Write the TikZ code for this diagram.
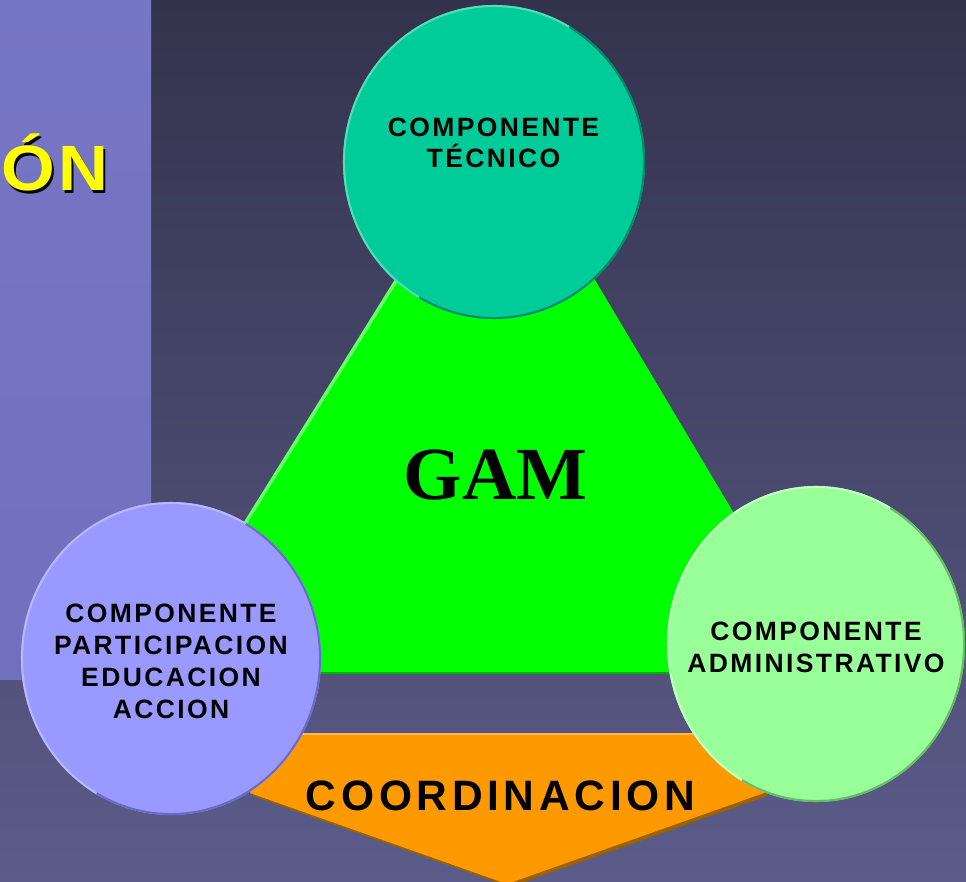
\documentclass[tikz,border=0pt]{standalone}
\usepackage{fontspec}
\setmainfont{Liberation Sans}
\newfontfamily\lblfont[LetterSpace=9]{Liberation Sans}
\newfontfamily\coordfont[LetterSpace=11]{Liberation Sans}
\newfontfamily\titlefont[FakeStretch=1.08,LetterSpace=5]{Liberation Sans}
\newfontfamily\gamfont{Liberation Serif}
\usetikzlibrary{shapes.geometric}
\definecolor{bgtop}{HTML}{33334D}
\definecolor{bgbot}{HTML}{5C5C8A}
\definecolor{paneltop}{HTML}{7676C6}
\definecolor{panelbot}{HTML}{7070BC}
\definecolor{tcfill}{HTML}{00CC99}
\definecolor{tclight}{HTML}{55DDBB}
\definecolor{tcdark}{HTML}{00886A}
\definecolor{lcfill}{HTML}{9999FF}
\definecolor{lclight}{HTML}{B8B8FF}
\definecolor{lcdark}{HTML}{6A6ACC}
\definecolor{rcfill}{HTML}{99FF99}
\definecolor{rclight}{HTML}{C2FFC2}
\definecolor{rcdark}{HTML}{66BB66}
\definecolor{trifill}{HTML}{00FF00}
\definecolor{trilight}{HTML}{66FF66}
\definecolor{tridark}{HTML}{00B000}
\definecolor{orfill}{HTML}{FF9900}
\definecolor{orshadow}{HTML}{9C6200}
\definecolor{orlight}{HTML}{FFB84D}
\definecolor{titleyellow}{HTML}{FFFF00}
\begin{document}
\begin{tikzpicture}[x=1pt,y=-1pt,
  bubble/.style={ellipse, inner sep=0pt},
  lbl/.style={font=\lblfont\bfseries\fontsize{26.5}{32}\selectfont, align=center, inner sep=0pt, text=black},
  rim/.style={line width=2pt},
  titletext/.style={anchor=base west, inner sep=0pt, font=\titlefont\bfseries\fontsize{64}{64}\selectfont}
]
\useasboundingbox (0,0) rectangle (966,882);
% background
\shade[top color=bgtop, bottom color=bgbot] (0,0) rectangle (966,882);
\shade[top color=paneltop, bottom color=panelbot] (0,0) rectangle (151,679);
% title fragment
\node[titletext, text=black] (onshadow) at (3,193.5) {ÓN};
\node[titletext, text=titleyellow] (on) at (1,191) {ÓN};
% orange pentagon
\coordinate (otl) at (250,734);
\coordinate (otr) at (764,734);
\coordinate (omr) at (764,793);
\coordinate (oap) at (507,884);
\coordinate (oml) at (250,793);
\fill[orshadow] ([shift={(3,3)}]otl) -- ([shift={(3,3)}]otr) -- ([shift={(3,3)}]omr) -- ([shift={(3,3)}]oap) -- ([shift={(3,3)}]oml) -- cycle;
\fill[orfill] (otl) -- (otr) -- (omr) -- (oap) -- (oml) -- cycle;
\draw[orlight, line width=1.5pt] (otl) -- (otr);
% green triangle
\coordinate (tap) at (498,117);
\coordinate (tbl) at (152,673);
\coordinate (tbr) at (829,673);
\fill[trifill] (tap) -- (tbr) -- (tbl) -- cycle;
\draw[tridark, line width=2pt] (tbl) -- (tbr);
\draw[trilight, line width=3.5pt] (tbl) -- (tap);
\node[inner sep=0pt, anchor=base, font=\gamfont\bfseries\fontsize{75}{75}\selectfont] (gam) at (495.5,499) {GAM};
% top circle
\node[bubble, fill=tcfill, minimum width=302pt, minimum height=314pt] (tc) at (494,162) {};
\draw[tcdark, rim] (tc.center) ++(-60:150 and 156) arc[start angle=-60, end angle=120, x radius=150, y radius=156];
\draw[tclight, rim] (tc.center) ++(120:150 and 156) arc[start angle=120, end angle=300, x radius=150, y radius=156];
\node[lbl, font=\lblfont\bfseries\fontsize{26.5}{31}\selectfont] (tctext) at (493.5,143) {COMPONENTE\\TÉCNICO};
% left circle
\node[bubble, fill=lcfill, minimum width=300pt, minimum height=313pt] (lc) at (171,658.5) {};
\draw[lcdark, rim] (lc.center) ++(-60:149 and 155.5) arc[start angle=-60, end angle=120, x radius=149, y radius=155.5];
\draw[lclight, rim] (lc.center) ++(120:149 and 155.5) arc[start angle=120, end angle=300, x radius=149, y radius=155.5];
\node[lbl] (lctext) at (171,661) {COMPONENTE\\PARTICIPACION\\EDUCACION\\ACCION};
% right circle
\node[bubble, fill=rcfill, minimum width=298pt, minimum height=316pt] (rc) at (816,644) {};
\draw[rcdark, rim] (rc.center) ++(-60:148 and 157) arc[start angle=-60, end angle=120, x radius=148, y radius=157];
\draw[rclight, rim] (rc.center) ++(120:148 and 157) arc[start angle=120, end angle=300, x radius=148, y radius=157];
\node[lbl] (rctext) at (816,647) {COMPONENTE\\ADMINISTRATIVO};
% coordination label
\node[inner sep=0pt, anchor=base, font=\coordfont\bfseries\fontsize{42.5}{42.5}\selectfont] (coord) at (500.5,810) {COORDINACION};
\end{tikzpicture}
\end{document}
